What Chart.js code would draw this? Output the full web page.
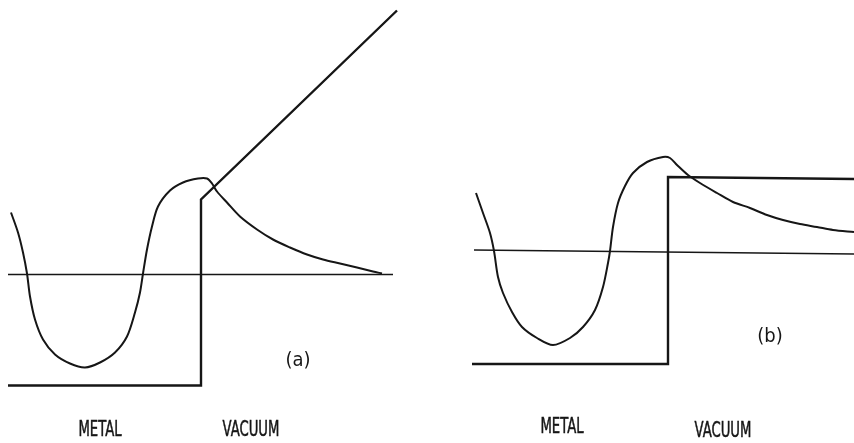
<!DOCTYPE html>
<html>
<head>
<meta charset="utf-8">
<script src="https://cdn.jsdelivr.net/npm/chart.js@4"></script>
<style>
  html, body { margin: 0; padding: 0; background: #fff; }
  #wrap { position: relative; width: 854px; height: 443px; overflow: hidden; }
  .panel { position: absolute; top: 0; width: 427px; height: 443px; }
</style>
</head>
<body>
<div id="wrap">
  <div class="panel" style="left:0"><canvas id="panelA"></canvas></div>
  <div class="panel" style="left:427px"><canvas id="panelB"></canvas></div>
</div>
<script>
// Position z (surface at z = 0, metal at z < 0) and energy E (level of the state at E = 0).

// ---- panel (a): surface with an applied field ----
const aWaveZ = [-190, -183, -178, -174, -171, -166, -158, -146, -131, -116, -101, -86, -74, -66, -61, -58, -54, -49, -43, -31, -18, -3, 6, 11, 16, 26, 39, 56, 72, 89, 106, 122, 139, 156, 172, 181];
const aWaveE = [62, 42, 22, 1, -22, -45, -65, -80, -89, -93, -88, -78, -62, -38, -18, 1, 25, 48, 68, 84, 92, 96, 96, 91, 83, 72, 58, 45, 35, 27, 20, 15, 11, 7, 3, 1];
const aBarrierZ = [-193, 0, 0, 196];
const aBarrierE = [-111, -111, 75, 264];
const aLevelZ = [-193, 192];
const aLevelE = [0, 0];

// ---- panel (b): field-free surface ----
const bWaveZ = [-192, -185, -178, -174, -170, -165, -156, -146, -131, -115, -98, -85, -73, -65, -60, -58, -55, -50, -43, -35, -21, -5, 2, 9, 20, 32, 49, 65, 82, 99, 115, 132, 149, 165, 186];
const bWaveE = [59, 39, 19, 1, -25, -41, -60, -75, -86, -93, -86, -75, -58, -35, -11, 1, 25, 49, 66, 79, 90, 95, 94, 87, 77, 69, 59, 50, 44, 37, 32, 28, 25, 22, 20];
const bBarrierZ = [-196, 0, 0, 186];
const bBarrierE = [-112, -112, 75, 73];
const bLevelZ = [-194, 186];
const bLevelE = [2, -2];

// ---- labels ----
const aLabels = ["(a)", "METAL", "VACUUM"];
const aLabelZ = [97, -101, 50];
const aLabelE = [-86, -156, -156];
const bLabels = ["(b)", "METAL", "VACUUM"];
const bLabelZ = [102, -106, 55];
const bLabelE = [-85, -176, -180];

const INK = '#161616';

function pts(zs, es) { return zs.map((z, i) => ({ x: z, y: es[i] })); }

const textPlugin = {
  id: 'panelText',
  afterDatasetsDraw(chart, args, opts) {
    const { ctx, scales } = chart;
    ctx.save();
    ctx.fillStyle = INK;
    ctx.strokeStyle = INK;
    ctx.lineWidth = 0.5;
    ctx.textAlign = 'center';
    ctx.textBaseline = 'middle';
    opts.texts.forEach((t, i) => {
      const px = scales.x.getPixelForValue(opts.z[i]);
      const py = scales.y.getPixelForValue(opts.e[i]);
      const isTag = t.startsWith('(');
      ctx.save();
      ctx.translate(px, py);
      ctx.scale(isTag ? 1.0 : 0.7, 1);
      ctx.font = (isTag ? '20px' : '21px') + ' "Liberation Sans Narrow", "DejaVu Sans Condensed", sans-serif';
      ctx.fillText(t, 0, 0);
      if (!isTag) ctx.strokeText(t, 0, 0);
      ctx.restore();
    });
    ctx.restore();
  }
};

function makePanel(id, wave, barrier, level, zRange, eRange, texts) {
  new Chart(document.getElementById(id), {
    type: 'scatter',
    data: {
      datasets: [
        { data: level, showLine: true, borderColor: INK, borderWidth: 1.3, pointRadius: 0, tension: 0 },
        { data: barrier, showLine: true, borderColor: INK, borderWidth: 2.4, pointRadius: 0, tension: 0 },
        { data: wave, showLine: true, borderColor: INK, borderWidth: 2, pointRadius: 0, tension: 0.3 }
      ]
    },
    options: {
      responsive: true,
      maintainAspectRatio: false,
      animation: false,
      events: [],
      layout: { padding: 0 },
      scales: {
        x: { type: 'linear', display: false, min: zRange[0], max: zRange[1] },
        y: { type: 'linear', display: false, min: eRange[0], max: eRange[1] }
      },
      plugins: {
        legend: { display: false },
        tooltip: { enabled: false },
        panelText: texts
      }
    },
    plugins: [textPlugin]
  });
}

makePanel('panelA', pts(aWaveZ, aWaveE), pts(aBarrierZ, aBarrierE), pts(aLevelZ, aLevelE),
  [-201, 226], [-168.5, 274.5], { texts: aLabels, z: aLabelZ, e: aLabelE });
makePanel('panelB', pts(bWaveZ, bWaveE), pts(bBarrierZ, bBarrierE), pts(bLevelZ, bLevelE),
  [-241, 186], [-191, 252], { texts: bLabels, z: bLabelZ, e: bLabelE });
</script>
</body>
</html>
